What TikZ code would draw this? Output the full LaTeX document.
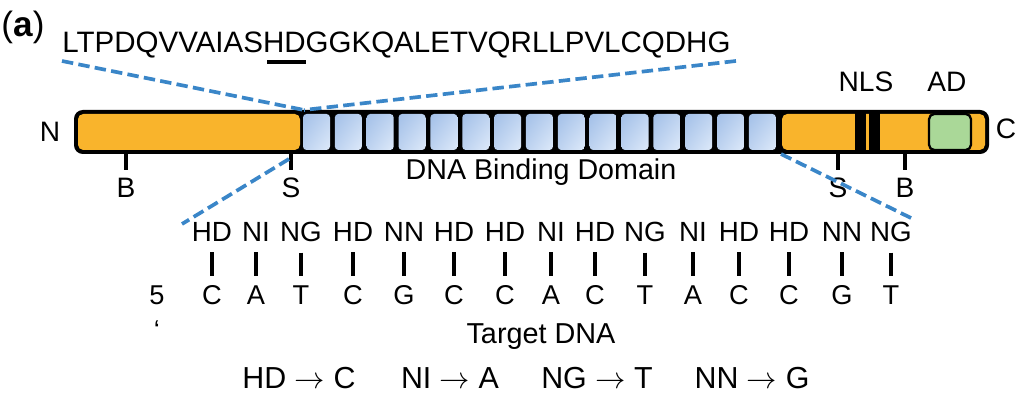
\documentclass[tikz,border=0pt]{standalone}
\usepackage{fontspec}
\setmainfont{Liberation Sans}
\usetikzlibrary{shadings}
\definecolor{talorange}{RGB}{249,180,44}
\definecolor{talblue}{RGB}{58,134,200}
\definecolor{rptdark}{RGB}{163,192,232}
\definecolor{rptmid}{RGB}{190,211,240}
\definecolor{rptlight}{RGB}{222,234,250}
\definecolor{adgreen}{RGB}{170,216,152}

\begin{document}
\begin{tikzpicture}[x=0.02cm,y=-0.02cm,
  txt/.style={inner sep=0pt,anchor=base,font=\fontsize{16}{19}\selectfont},
  rvd/.style={txt,font=\fontsize{15.8}{19}\selectfont},
  nt/.style={txt,font=\fontsize{15.5}{19}\selectfont},
  keytxt/.style={txt,font=\fontsize{17.3}{20}\selectfont},
  zoomline/.style={talblue,line width=2.1pt,dash pattern=on 6.5pt off 3pt},
  tick/.style={line width=1.9pt}]
  \useasboundingbox (0,0) rectangle (1024,404);
  % heading and repeat sequence
  \node[txt,anchor=base west,font=\fontsize{20}{24}\selectfont] (panel) at (1,37) {(\textbf{a})};
  \node[txt,anchor=base west,font=\fontsize{16.8}{20}\selectfont] (seq) at (62,53)
    {LTPDQVVAIASHDGGKQALETVQRLLPVLCQDHG};
  \draw[line width=2pt] (267,62) -- (306,62);
  % protein bar
  \fill[black,rounded corners=5pt] (74,110) rectangle (989,154);
  \fill[talorange,rounded corners=3pt] (78,114) rectangle (300,150);
  \foreach \i in {0,...,14} {
    \pgfmathsetmacro\sx{303+31.85*\i}
    \shade[rounded corners=2pt,upper left=rptdark,upper right=rptmid,
      lower left=rptmid,lower right=rptlight] (\sx,114) rectangle (\sx+27,150);
  }
  \fill[talorange,rounded corners=3pt] (782,114) rectangle (985,150);
  \fill[black] (855,111) rectangle (866,153);
  \fill[black] (869,111) rectangle (880,153);
  \filldraw[fill=adgreen,draw=black,line width=1.3pt,rounded corners=3pt] (929,114) rectangle (971,150);
  \node[txt] (nterm) at (50,142) {N};
  \node[txt] (cterm) at (1006,139) {C};
  \node[txt] (nls) at (866,92) {NLS};
  \node[txt] (ad) at (947,92) {AD};
  \node[txt,font=\fontsize{16.3}{19}\selectfont] (dbd) at (541,180) {DNA Binding Domain};
  % restriction sites
  \node[txt] (bL) at (126,198) {B};
  \node[txt] (sL) at (291,198) {S};
  \node[txt] (sR) at (838,198) {S};
  \node[txt] (bR) at (905,198) {B};
  \coordinate (bLtop) at (126,153);
  \coordinate (sLtop) at (291,153);
  \coordinate (sRtop) at (838,153);
  \coordinate (bRtop) at (905,153);
  \draw[tick] (bLtop) -- ([yshift=0.16cm]bL.north);
  \draw[tick] (sLtop) -- ([yshift=0.16cm]sL.north);
  \draw[tick] (sRtop) -- ([yshift=0.16cm]sR.north);
  \draw[tick] (bRtop) -- ([yshift=0.16cm]bR.north);
  % zoom lines
  \coordinate (seqL) at (62,61);
  \coordinate (seqR) at (736,61);
  \coordinate (rptTop) at (304,110);
  \coordinate (rptBotL) at (289,159);
  \coordinate (rptBotR) at (781,154);
  \coordinate (rvdL) at (182,224);
  \coordinate (rvdR) at (915,220);
  \draw[zoomline] (seqL) -- (rptTop);
  \draw[zoomline] (seqR) -- (rptTop);
  \draw[zoomline] (rptBotL) -- (rvdL);
  \draw[zoomline] (rptBotR) -- (rvdR);
  % repeats and target
  \foreach \x/\r/\b [count=\i] in {212/HD/C,256/NI/A,301/NG/T,353/HD/C,404/NN/G,
      454/HD/C,505/HD/C,551/NI/A,595/HD/C,645/NG/T,693/NI/A,739/HD/C,789/HD/C,842/NN/G,891/NG/T} {
    \node[rvd] (rvd\i) at (\x,242) {\r};
    \node[nt] (nt\i) at (\x,305) {\b};
    \draw[tick] ([yshift=-0.2cm]rvd\i.south) -- ([yshift=0.2cm]nt\i.north);
  }
  \node[nt] (five) at (157,305) {5};
  \node[nt,anchor=north] (prime) at (157,320) {‘};
  \node[txt,font=\fontsize{16.4}{19}\selectfont] (target) at (541,344) {Target DNA};
  % code
  \node[keytxt] (key1) at (299,389) {HD $\rightarrow$ C};
  \node[keytxt] (key2) at (450,389) {NI $\rightarrow$ A};
  \node[keytxt] (key3) at (597,389) {NG $\rightarrow$ T};
  \node[keytxt] (key4) at (752,389) {NN $\rightarrow$ G};
\end{tikzpicture}
\end{document}
